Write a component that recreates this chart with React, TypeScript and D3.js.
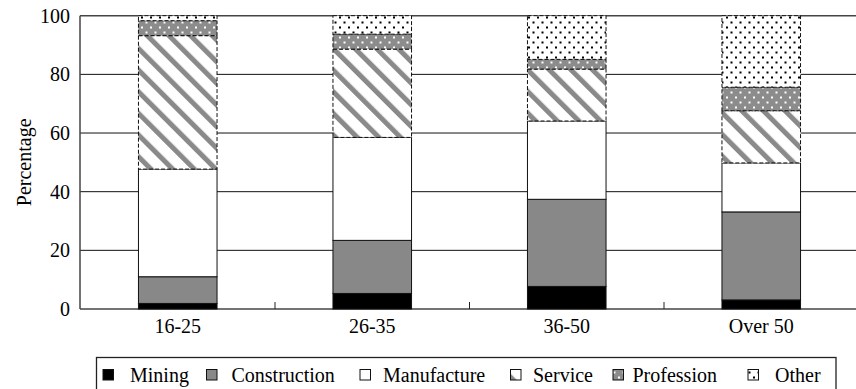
import React from "react";
import * as d3 from "d3";

// Employment sector share (%) by age group
const categories = ["16-25", "26-35", "36-50", "Over 50"];
const mining = [1.9, 5.3, 7.7, 3.1];
const construction = [9.1, 18.1, 29.7, 30.0];
const manufacture = [36.7, 35.1, 26.7, 16.7];
const service = [45.5, 30.1, 17.7, 17.8];
const profession = [5.1, 5.1, 3.3, 8.0];
const other = [1.7, 6.3, 14.9, 24.4];
const sectors = ["Mining", "Construction", "Manufacture", "Service", "Profession", "Other"];
const yTicks = [0, 20, 40, 60, 80, 100];

const W = 856;
const H = 389;
const FONT = "Liberation Serif, DejaVu Serif, serif";

const fills: Record<string, string> = {
  Mining: "#000",
  Construction: "#888",
  Manufacture: "#fff",
  Service: "url(#pat-service)",
  Profession: "url(#pat-profession)",
  Other: "url(#pat-other)",
};
const dashed: Record<string, boolean> = {
  Service: true,
  Profession: true,
  Other: true,
};

// legend placement: icon x and label x
const legendPos = [
  { ix: 103, tx: 130 },
  { ix: 206.5, tx: 231.5 },
  { ix: 360, tx: 383 },
  { ix: 510.5, tx: 533 },
  { ix: 613, tx: 632.5 },
  { ix: 748, tx: 775 },
];

export default function App() {
  const rows = categories.map((c, i) => ({
    cat: c,
    Mining: mining[i],
    Construction: construction[i],
    Manufacture: manufacture[i],
    Service: service[i],
    Profession: profession[i],
    Other: other[i],
  }));
  const series = d3.stack<any>().keys(sectors)(rows);

  const x = d3
    .scaleBand<string>()
    .domain(categories)
    .range([80.5, 858.5])
    .paddingInner(0.596)
    .paddingOuter(0.298);
  const y = d3.scaleLinear().domain([0, 100]).range([309, 15.7]);
  const step = x.step();
  const x0 = 80.5;
  const textStyle = { fontFamily: FONT, fontSize: "20px" };

  return (
    <svg
      width={W}
      height={H}
      style={{ position: "absolute", left: 0, top: 0, background: "#fff" }}
    >
      <defs>
        <pattern
          id="pat-service"
          patternUnits="userSpaceOnUse"
          width={15.3}
          height={15.3}
          patternTransform="rotate(-45)"
        >
          <rect width={15.3} height={15.3} fill="#fff" />
          <rect x={0} y={0} width={5} height={15.3} fill="#8a8a8a" />
        </pattern>
        <pattern id="pat-profession" patternUnits="userSpaceOnUse" width={9} height={10}>
          <rect width={9} height={10} fill="#8c8c8c" />
          <rect x={1.5} y={1.5} width={2} height={2} fill="#fff" />
          <rect x={6} y={6.5} width={2} height={2} fill="#fff" />
        </pattern>
        <pattern id="pat-other" patternUnits="userSpaceOnUse" width={9} height={10}>
          <rect width={9} height={10} fill="#fff" />
          <rect x={1.5} y={1.5} width={2} height={2} fill="#000" />
          <rect x={6} y={6.5} width={2} height={2} fill="#000" />
        </pattern>
      </defs>

      {/* grid lines */}
      {yTicks.map((t) => (
        <line
          key={t}
          x1={80}
          x2={W}
          y1={y(t)}
          y2={y(t)}
          stroke={t === 0 || t === 100 ? "#444" : "#111"}
          strokeWidth={t === 0 || t === 100 ? 1.5 : 1}
        />
      ))}

      {/* y axis */}
      <line x1={80} x2={80} y1={y(100)} y2={y(0)} stroke="#444" strokeWidth={1.5} />
      {yTicks.map((t) => (
        <text key={t} x={70} y={y(t) + 7} textAnchor="end" style={textStyle} fill="#000">
          {t}
        </text>
      ))}
      <text
        transform={`translate(31,${(y(0) + y(100)) / 2}) rotate(-90)`}
        textAnchor="middle"
        style={textStyle}
        fill="#000"
      >
        Percentage
      </text>

      {/* category boundary ticks */}
      {categories.slice(1).map((c, i) => (
        <line
          key={c}
          x1={x0 + step * (i + 1)}
          x2={x0 + step * (i + 1)}
          y1={y(0)}
          y2={y(0) - 7}
          stroke="#222"
          strokeWidth={1}
        />
      ))}

      {/* stacked bars */}
      {series.map((s) => (
        <g key={s.key}>
          {s.map((d: any, i: number) => (
            <rect
              key={i}
              x={x(categories[i])!}
              width={x.bandwidth()}
              y={y(d[1])}
              height={y(d[0]) - y(d[1])}
              fill={fills[s.key]}
              stroke="#111"
              strokeWidth={1}
              strokeDasharray={dashed[s.key] ? "4 2" : undefined}
            />
          ))}
        </g>
      ))}

      {/* category labels */}
      {categories.map((c) => (
        <text
          key={c}
          x={x(c)! + x.bandwidth() / 2}
          y={333}
          textAnchor="middle"
          style={textStyle}
          fill="#000"
        >
          {c}
        </text>
      ))}

      {/* legend */}
      <rect x={96.5} y={357.5} width={739.5} height={40} fill="none" stroke="#222" strokeWidth={1.3} />
      {sectors.map((k, i) => (
        <g key={k}>
          <rect
            x={legendPos[i].ix}
            y={369.5}
            width={10.5}
            height={10.5}
            fill={fills[k]}
            stroke="#111"
            strokeWidth={1}
          />
          <text x={legendPos[i].tx} y={381.5} style={textStyle} fill="#000">
            {k}
          </text>
        </g>
      ))}
    </svg>
  );
}
